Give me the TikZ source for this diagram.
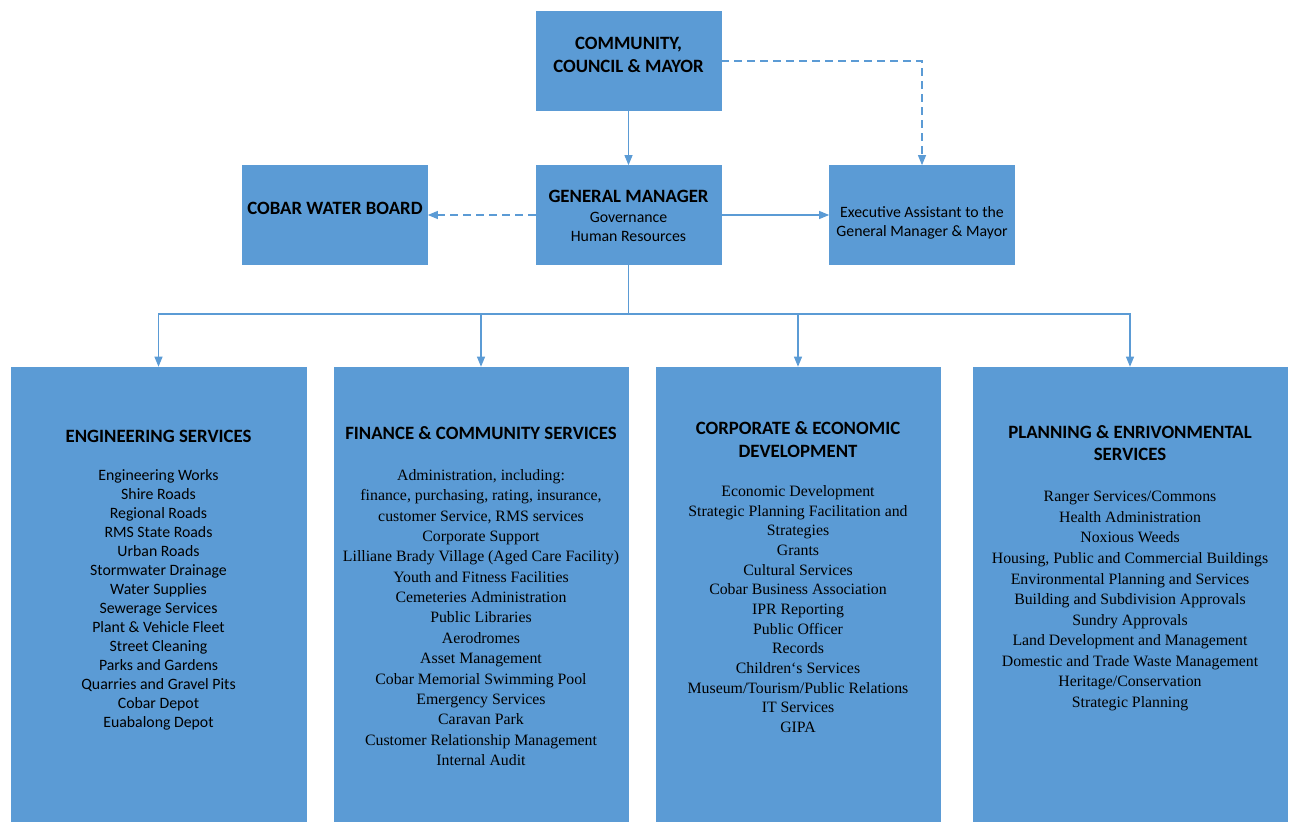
\documentclass[tikz,border=0pt]{standalone}
\usepackage{fontspec}
\setmainfont{Liberation Serif}
\newfontfamily\calibri{Carlito}
\usepackage{tikz}
\usetikzlibrary{arrows.meta}
\definecolor{azul}{HTML}{5B9BD5}
\tikzset{
  caixa/.style={rectangle, fill=azul, draw=azul, inner sep=0pt,
                minimum width=3.7cm, minimum height=1.98cm},
  depto/.style={rectangle, fill=azul, draw=azul, inner sep=0pt, minimum height=9.08cm},
  titulo/.style={font=\calibri\bfseries\fontsize{10.7}{13}\selectfont, align=center, inner sep=0pt},
  itcal/.style={font=\calibri\fontsize{9}{10.8}\selectfont, align=center, inner sep=0pt, anchor=north},
  ittms/.style={font=\fontsize{9}{11.6}\selectfont, align=center, inner sep=0pt, anchor=north},
  liga/.style={draw=azul, line width=0.6pt, -{Triangle[length=2mm, width=1.6mm]}},
  ligatr/.style={liga, dash pattern=on 1.6mm off 1mm},
}

\begin{document}
\begin{tikzpicture}[x=0.02cm,y=-0.02cm]
    \useasboundingbox (0,0) rectangle (1294,821);

    %% ---------- top levels ----------
    \node[caixa] (bxCom)   at (628.5,61)  {};
    \node[caixa] (bxGM)    at (628.5,215) {};
    \node[caixa] (bxWater) at (335,215)   {};
    \node[caixa] (bxExec)  at (922,215)   {};

    \node[titulo] (txCom)   at (628.5,55) {COMMUNITY,\\COUNCIL \& MAYOR};
    \node[titulo] (txWater) at (335,208)  {COBAR WATER BOARD};
    \node[font=\calibri\fontsize{9}{11.3}\selectfont, align=center, inner sep=0pt] (txGM) at (628.5,216)
      {{\bfseries\fontsize{10.7}{13}\selectfont GENERAL MANAGER}\\Governance\\Human Resources};
    \node[font=\calibri\fontsize{9}{10.8}\selectfont, align=center, inner sep=0pt] (txExec) at (922,223)
      {Executive Assistant to the\\General Manager \& Mayor};

    %% ---------- departments ----------
    \node[depto, minimum width=5.9cm]  (bxEng)  at (158.5,594) {};
    \node[depto, minimum width=5.88cm] (bxFin)  at (481,594)   {};
    \node[depto, minimum width=5.68cm] (bxCorp) at (798,594)   {};
    \node[depto, minimum width=6.28cm] (bxPlan) at (1130,594)  {};

    \node[titulo] (hdEng)  at (158.5,436) {ENGINEERING SERVICES};
    \node[titulo] (hdFin)  at (481,433)   {FINANCE \& COMMUNITY SERVICES};
    \node[titulo] (hdCorp) at (798,439.5) {CORPORATE \& ECONOMIC\\DEVELOPMENT};
    \node[titulo] (hdPlan) at (1130,443)  {PLANNING \& ENRIVONMENTAL\\SERVICES};

    \node[itcal] (liEng) at (158.5,469) {Engineering Works\\Shire Roads\\Regional Roads\\RMS State Roads\\
      Urban Roads\\Stormwater Drainage\\Water Supplies\\Sewerage Services\\Plant \& Vehicle Fleet\\
      Street Cleaning\\Parks and Gardens\\Quarries and Gravel Pits\\Cobar Depot\\Euabalong Depot};
    \node[ittms] (liFin) at (481,469) {Administration, including:\\finance, purchasing, rating, insurance,\\
      customer Service, RMS services\\Corporate Support\\Lilliane Brady Village (Aged Care Facility)\\
      Youth and Fitness Facilities\\Cemeteries Administration\\Public Libraries\\Aerodromes\\
      Asset Management\\Cobar Memorial Swimming Pool\\Emergency Services\\Caravan Park\\
      Customer Relationship Management\\Internal Audit};
    \node[ittms, font=\fontsize{9}{11.2}\selectfont] (liCorp) at (798,485) {Economic Development\\
      Strategic Planning Facilitation and\\Strategies\\Grants\\Cultural Services\\
      Cobar Business Association\\IPR Reporting\\Public Officer\\Records\\Children\symbol{"60}s Services\\
      Museum/Tourism/Public Relations\\IT Services\\GIPA};
    \node[ittms, font=\fontsize{9}{11.7}\selectfont] (liPlan) at (1130,491) {Ranger Services/Commons\\
      Health Administration\\Noxious Weeds\\Housing, Public and Commercial Buildings\\
      Environmental Planning and Services\\Building and Subdivision Approvals\\Sundry Approvals\\
      Land Development and Management\\Domestic and Trade Waste Management\\
      Heritage/Conservation\\Strategic Planning};

    %% ---------- connectors ----------
    \coordinate (bar) at (628.5,314);
    \draw[liga] (bxCom) -- (bxGM);
    \draw[ligatr] (bxCom.east) -| (bxExec.north);
    \draw[ligatr] (bxGM.west) -- (bxWater.east);
    \draw[liga] (bxGM.east) -- (bxExec.west);
    \draw[draw=azul, line width=0.6pt] (bxGM.south) -- (bar);
    \foreach \d in {bxEng,bxFin,bxCorp,bxPlan}
      \draw[liga] (bar) -| (\d.north);

\end{tikzpicture}
\end{document}
